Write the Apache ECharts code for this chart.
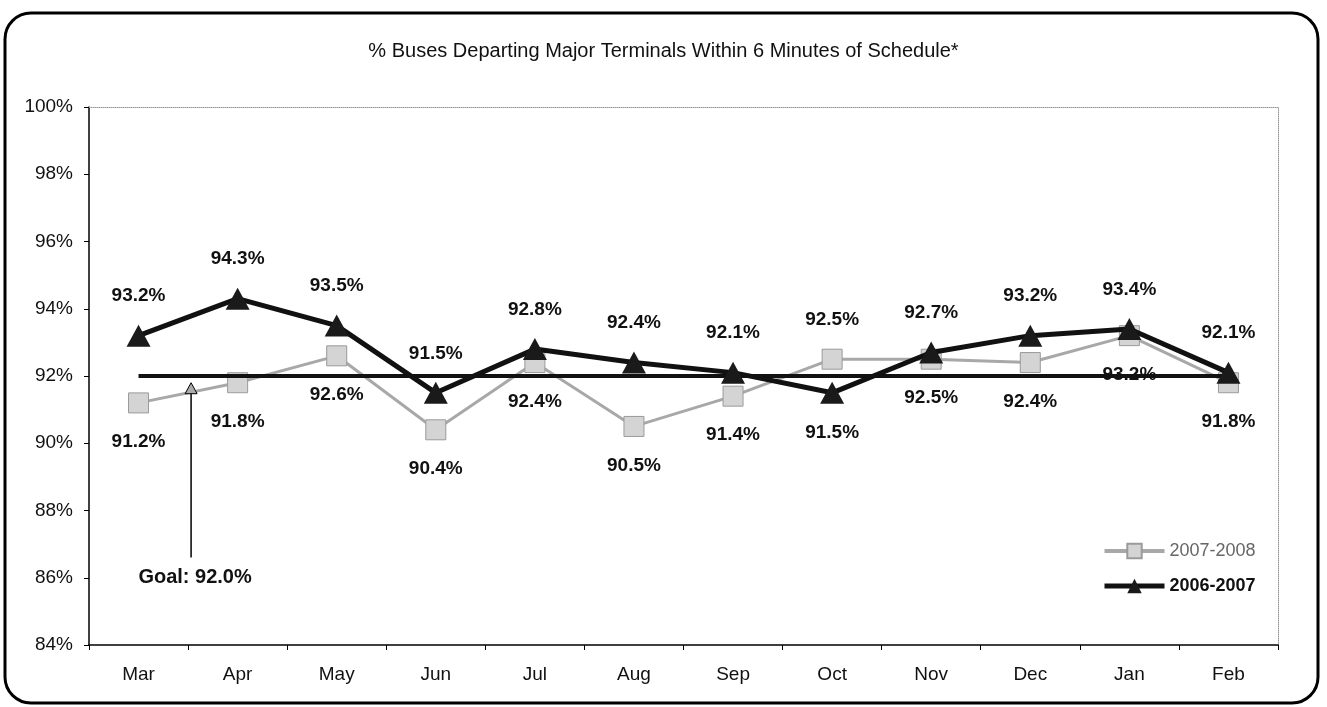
<!DOCTYPE html>
<html>
<head>
<meta charset="utf-8">
<title>Buses departing on schedule</title>
<script src="https://cdn.jsdelivr.net/npm/echarts@6/dist/echarts.min.js"></script>
<style>
  html, body { margin: 0; padding: 0; background: #fff; }
  #main { width: 1327px; height: 707px; }
</style>
</head>
<body>
<div id="main"></div>
<script type="text/javascript">
// months of the fiscal year
const categories = ['Mar', 'Apr', 'May', 'Jun', 'Jul', 'Aug', 'Sep', 'Oct', 'Nov', 'Dec', 'Jan', 'Feb'];
// % on time
const season0708 = [91.2, 91.8, 92.6, 90.4, 92.4, 90.5, 91.4, 92.5, 92.5, 92.4, 93.2, 91.8];
const season0607 = [93.2, 94.3, 93.5, 91.5, 92.8, 92.4, 92.1, 91.5, 92.7, 93.2, 93.4, 92.1];
const goalValues = [92, 92, 92, 92, 92, 92, 92, 92, 92, 92, 92, 92];
// goal callout: arrow from bottom to top, label value
const goalArrow = [86.6, 91.8];
const goalLabelAt = 86.0;
const goalText = 'Goal: 92.0%';

const FONT = 'Liberation Sans, Arial, sans-serif';
const chart = echarts.init(document.getElementById('main'));

// the higher of the two values gets its label above, the other below
function withLabels(vals, other) {
  return vals.map((v, i) => ({
    value: v,
    label: { position: v >= other[i] ? 'top' : 'bottom' }
  }));
}

chart.setOption({
  animation: false,
  textStyle: { fontFamily: FONT },
  title: {
    text: '% Buses Departing Major Terminals Within 6 Minutes of Schedule*',
    left: 'center',
    top: 36,
    textStyle: { fontSize: 20, fontWeight: 'normal', color: '#111', fontFamily: FONT }
  },
  legend: {
    orient: 'vertical',
    left: 1097,
    top: 537,
    itemWidth: 60,
    itemHeight: 18,
    itemGap: 17,
    textStyle: { fontSize: 18, color: '#111', fontFamily: FONT },
    data: [
      { name: '2007-2008', lineStyle: { width: 4 }, textStyle: { color: '#666', fontWeight: 'normal' } },
      { name: '2006-2007', lineStyle: { width: 5 }, textStyle: { color: '#111', fontWeight: 'bold' } }
    ]
  },
  grid: { left: 89, right: 49, top: 107, bottom: 62 },
  xAxis: [{
    type: 'category',
    data: categories,
    axisLine: { lineStyle: { color: '#000', width: 1.5 } },
    axisTick: { show: true, length: 5, alignWithLabel: false, lineStyle: { color: '#000' } },
    axisLabel: { fontSize: 19, color: '#111', margin: 20, fontFamily: FONT }
  }, {
    type: 'category',
    position: 'top',
    data: categories,
    axisLine: { lineStyle: { color: '#999', type: 'dotted', width: 1 } },
    axisTick: { show: false },
    axisLabel: { show: false }
  }],
  yAxis: [{
    type: 'value',
    min: 84,
    max: 100,
    interval: 2,
    axisLine: { show: true, lineStyle: { color: '#000', width: 1.5 } },
    axisTick: { show: true, length: 5, lineStyle: { color: '#000' } },
    splitLine: { show: false },
    axisLabel: { fontSize: 19, color: '#111', margin: 16, formatter: '{value}%', fontFamily: FONT }
  }, {
    type: 'value',
    position: 'right',
    min: 84,
    max: 100,
    interval: 2,
    axisLine: { show: true, lineStyle: { color: '#999', type: 'dotted', width: 1 } },
    axisTick: { show: false },
    splitLine: { show: false },
    axisLabel: { show: false }
  }],
  series: [{
    name: '2007-2008',
    type: 'line',
    data: withLabels(season0708, season0607),
    symbol: 'rect',
    symbolSize: 20,
    z: 2,
    lineStyle: { color: '#a8a8a8', width: 3 },
    itemStyle: { color: '#d4d4d4', borderColor: '#9a9a9a', borderWidth: 1 },
    label: {
      show: true,
      distance: 19,
      fontSize: 19,
      fontWeight: 'bold',
      color: '#111',
      fontFamily: FONT,
      formatter: p => p.value.toFixed(1) + '%'
    }
  }, {
    name: 'Goal',
    type: 'line',
    data: goalValues,
    symbol: 'none',
    z: 3,
    lineStyle: { color: '#111', width: 4 },
    silent: true
  }, {
    name: '2006-2007',
    type: 'line',
    data: withLabels(season0607, season0708),
    symbol: 'triangle',
    symbolSize: [24, 22],
    z: 4,
    lineStyle: { color: '#111', width: 5 },
    itemStyle: { color: '#1a1a1a' },
    label: {
      show: true,
      distance: 19,
      fontSize: 19,
      fontWeight: 'bold',
      color: '#111',
      fontFamily: FONT,
      formatter: p => p.value.toFixed(1) + '%'
    }
  }]
});

// goal callout sits on the boundary between the first two months
const x0 = chart.convertToPixel({ xAxisIndex: 0 }, categories[0]);
const x1 = chart.convertToPixel({ xAxisIndex: 0 }, categories[1]);
const xb = (x0 + x1) / 2 + 3;
const yBottom = chart.convertToPixel({ yAxisIndex: 0 }, goalArrow[0]);
const yTop = chart.convertToPixel({ yAxisIndex: 0 }, goalArrow[1]);
const yText = chart.convertToPixel({ yAxisIndex: 0 }, goalLabelAt);

chart.setOption({
  graphic: [{
    type: 'rect',
    shape: { x: 5, y: 13, width: 1313, height: 690, r: 26 },
    style: { fill: 'none', stroke: '#000', lineWidth: 3 },
    silent: true
  }, {
    type: 'line',
    shape: { x1: xb, y1: yBottom, x2: xb, y2: yTop + 10 },
    style: { stroke: '#000', lineWidth: 1.5 },
    z: 10
  }, {
    type: 'polygon',
    shape: { points: [[xb, yTop], [xb - 6, yTop + 11], [xb + 6, yTop + 11]] },
    style: { fill: '#aaa', stroke: '#000', lineWidth: 1 },
    z: 10
  }, {
    type: 'text',
    x: xb + 4,
    y: yText,
    style: {
      text: goalText,
      fill: '#111',
      font: 'bold 20px ' + FONT,
      align: 'center',
      verticalAlign: 'middle'
    },
    z: 10
  }]
});
</script>
</body>
</html>
